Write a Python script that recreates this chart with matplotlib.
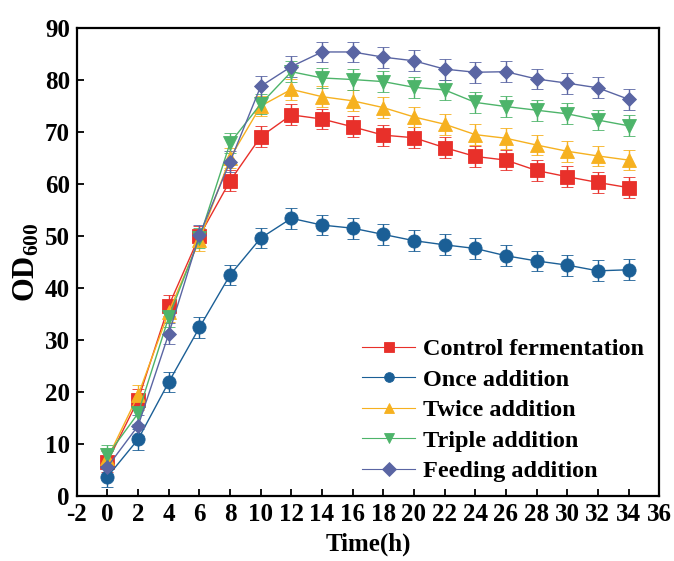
import matplotlib
import numpy as np

matplotlib.use("Agg")
import matplotlib.pyplot as plt

plt.rcParams["font.family"] = "Liberation Serif"
plt.rcParams["font.weight"] = "bold"
plt.rcParams["axes.unicode_minus"] = False
plt.rcParams["mathtext.fontset"] = "custom"
plt.rcParams["mathtext.rm"] = "Liberation Serif:bold"
plt.rcParams["mathtext.bf"] = "Liberation Serif:bold"

time_h = [0, 2, 4, 6, 8, 10, 12, 14, 16, 18, 20, 22, 24, 26, 28, 30, 32, 34]

control = [6.6, 18.5, 36.6, 50.0, 60.6, 69.1, 73.3, 72.5, 71.0, 69.4, 68.9,
           67.0, 65.3, 64.6, 62.6, 61.4, 60.3, 59.3]
once = [3.7, 10.9, 21.9, 32.4, 42.5, 49.6, 53.4, 52.1, 51.5, 50.3, 49.1,
        48.3, 47.6, 46.2, 45.2, 44.4, 43.3, 43.5]
twice = [7.2, 19.4, 35.4, 49.2, 65.0, 75.0, 78.2, 76.8, 76.0, 74.7, 72.9,
         71.5, 69.5, 68.8, 67.5, 66.3, 65.4, 64.6]
triple = [7.8, 15.9, 34.4, 49.6, 67.9, 75.4, 81.6, 80.4, 80.1, 79.7, 78.6,
          78.1, 75.7, 74.9, 74.2, 73.5, 72.3, 71.2]
feeding = [5.6, 13.5, 31.2, 50.2, 64.3, 78.8, 82.6, 85.4, 85.4, 84.4, 83.7,
           82.1, 81.5, 81.6, 80.2, 79.4, 78.5, 76.3]

err = [2.0] * len(time_h)

series = [
    ("Control fermentation", control, "#E8302A", "s"),
    ("Once addition", once, "#1B5F96", "o"),
    ("Twice addition", twice, "#F6B120", "^"),
    ("Triple addition", triple, "#4DB46A", "v"),
    ("Feeding addition", feeding, "#5A65A3", "D"),
]

fig = plt.figure(figsize=(6.74, 5.61), dpi=100)
ax = fig.add_axes([0.114, 0.116, 0.864, 0.834])

for label, vals, col, mk in series:
    ms = 7.5 if mk == "D" else 9.5
    ax.errorbar(time_h, vals, yerr=err, color=col, marker=mk, ms=ms, lw=1.0,
                elinewidth=1.0, capsize=4, capthick=1.0, label=label,
                markeredgewidth=0.6)

ax.set_xlim(-2, 36)
ax.set_ylim(0, 90)
ax.set_xticks(np.arange(-2, 37, 2))
ax.set_yticks(np.arange(0, 91, 10))
ax.tick_params(direction="in", labelsize=18, length=5, width=1.3, pad=5)
for s in ax.spines.values():
    s.set_linewidth(1.6)

ax.set_xlabel("Time(h)", fontsize=18, fontweight="bold", labelpad=5)
ax.set_ylabel(r"$\mathbf{OD_{600}}$", fontsize=22, labelpad=2)

# legend with smaller markers and thin connector lines
handles, labels = ax.get_legend_handles_labels()
handles = [h[0] for h in handles]
leg = ax.legend(handles, labels, loc="lower right", frameon=False, fontsize=17.5,
                handlelength=2.2, handletextpad=0.3, labelspacing=0.35,
                borderaxespad=0, bbox_to_anchor=(0.99, 0.008))
for line in leg.get_lines():
    line.set_linewidth(0.8)
    line.set_markersize(7)

fig.savefig("out.png", dpi=100)
